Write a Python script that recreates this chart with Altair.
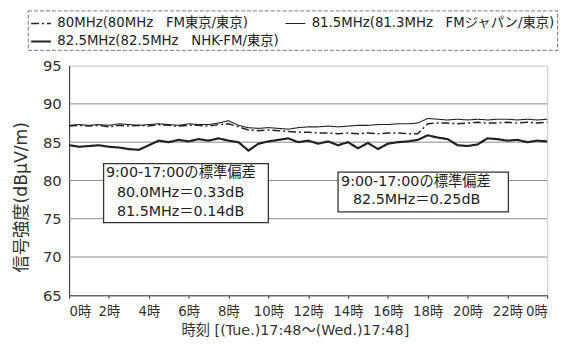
import altair as alt
import pandas as pd

hours = [0.0, 0.5, 1.0, 1.5, 2.0, 2.5, 3.0, 3.5, 4.0, 4.5, 5.0, 5.5, 6.0, 6.5, 7.0, 7.5,
         8.0, 8.5, 9.0, 9.5, 10.0, 10.5, 11.0, 11.5, 12.0, 12.5, 13.0, 13.5, 14.0, 14.5,
         15.0, 15.5, 16.0, 16.5, 17.0, 17.5, 18.0, 18.5, 19.0, 19.5, 20.0, 20.5, 21.0,
         21.5, 22.0, 22.5, 23.0, 23.5, 24.0]

s80 = [87.1, 87.2, 87.1, 87.2, 87.0, 87.2, 87.1, 87.2, 87.1, 87.3, 87.2, 87.1, 87.2, 87.2,
       87.1, 87.3, 87.4, 87.0, 86.6, 86.5, 86.6, 86.5, 86.4, 86.3, 86.3, 86.2, 86.2, 86.1,
       86.2, 86.1, 86.2, 86.1, 86.2, 86.2, 86.1, 86.1, 87.4, 87.5, 87.5, 87.4, 87.5, 87.6,
       87.5, 87.5, 87.6, 87.5, 87.6, 87.5, 87.6]

s815 = [87.2, 87.3, 87.2, 87.3, 87.2, 87.4, 87.3, 87.2, 87.3, 87.4, 87.3, 87.2, 87.4, 87.3,
        87.3, 87.5, 87.8, 87.2, 86.9, 86.8, 86.9, 86.8, 86.7, 86.9, 87.0, 87.0, 87.1, 87.0,
        87.1, 87.2, 87.2, 87.3, 87.3, 87.4, 87.4, 87.5, 88.1, 88.0, 87.9, 88.0, 87.9, 88.0,
        87.9, 88.0, 88.0, 87.9, 88.0, 87.9, 88.0]

s825 = [84.6, 84.4, 84.5, 84.6, 84.4, 84.3, 84.1, 84.0, 84.6, 85.2, 85.0, 85.3, 85.1, 85.4,
        85.2, 85.5, 85.2, 85.0, 83.9, 84.8, 85.1, 85.3, 85.5, 85.0, 85.2, 84.8, 85.1, 84.6,
        85.0, 84.2, 84.9, 84.1, 84.8, 85.0, 85.1, 85.3, 85.9, 85.6, 85.4, 84.6, 84.5, 84.7,
        85.5, 85.4, 85.2, 85.3, 85.0, 85.2, 85.1]

name80 = "80MHz(80MHz\u00a0\u00a0\u00a0FM東京/東京)"
name815 = "81.5MHz(81.3MHz\u00a0\u00a0\u00a0FMジャパン/東京)"
name825 = "82.5MHz(82.5MHz\u00a0\u00a0\u00a0NHK-FM/東京)"
# legend fills column by column: 80 / 82.5 in first column, 81.5 in second
legend_order = [name80, name825, name815]
dash_range = [[8, 3, 2, 3], [1, 0], [1, 0]]
width_range = [1.5, 2.2, 1.1]

y_ticks = [65, 70, 75, 80, 85, 90, 95]
grid_levels = [70, 75, 80, 85, 90]
x_ticks = [0, 2, 4, 6, 8, 10, 12, 14, 16, 18, 20, 22, 24]

# annotation boxes (data units: hours, dB)
box_x = [1.73, 13.5]
box_x2 = [10.0, 22.05]
box_y = [82.2, 81.1]
box_y2 = [74.5, 75.9]

note_text = ["9:00-17:00の標準偏差", "80.0MHz＝0.33dB", "81.5MHz＝0.14dB",
             "9:00-17:00の標準偏差", "82.5MHz＝0.25dB"]
note_x = [1.85, 2.4, 2.4, 13.65, 14.25]
note_y = [80.95, 78.35, 75.9, 79.8, 77.5]

FONT = "DejaVu Sans, Noto Sans CJK JP"

rows = []
for name, vals in zip([name80, name815, name825], [s80, s815, s825]):
    for h, v in zip(hours, vals):
        rows.append({"series": name, "hour": h, "value": v})
df = pd.DataFrame(rows)

boxes = pd.DataFrame({"x": box_x, "x2": box_x2, "y": box_y, "y2": box_y2})
notes = pd.DataFrame({"t": note_text, "x": note_x, "y": note_y})
grid_df = pd.DataFrame({"g": grid_levels})

xscale = alt.Scale(domain=[0, 24], nice=False)
yscale = alt.Scale(domain=[65, 95], nice=False, zero=False)

legend = alt.Legend(
    title=None, orient="none", legendX=-42, legendY=-56, columns=2,
    symbolType="stroke", symbolSize=400, symbolStrokeColor="#222",
    labelFontSize=13.5, labelFont=FONT, labelColor="#222", labelLimit=400,
    labelOffset=5, columnPadding=4, rowPadding=0, padding=2, strokeColor="#777",
)

grid = alt.Chart(grid_df).mark_rule(color="#8a8a8a", strokeWidth=1).encode(
    y=alt.Y("g:Q", scale=yscale))

lines = alt.Chart(df).mark_line(color="#222").encode(
    x=alt.X("hour:Q", scale=xscale,
            axis=alt.Axis(values=x_ticks, tickCount=13,
                          labelExpr="(datum.value % 24) + '時'", labelOverlap=False,
                          title="時刻  [(Tue.)17:48～(Wed.)17:48]",
                          titleX=229, titleAnchor="start", titleAlign="center",
                          grid=False, tickSize=3, labelPadding=6, titlePadding=6)),
    y=alt.Y("value:Q", scale=yscale,
            axis=alt.Axis(values=y_ticks, tickCount=7, title="信号強度(dBμV/m)", grid=False,
                          titleY=133, titleAnchor="start", titleAlign="center",
                          tickSize=0, labelPadding=8, titlePadding=12, labelOverlap=False)),
    strokeDash=alt.StrokeDash("series:N",
                              scale=alt.Scale(type="ordinal", domain=legend_order,
                                              range=dash_range),
                              legend=legend),
    strokeWidth=alt.StrokeWidth("series:N",
                                scale=alt.Scale(type="ordinal", domain=legend_order,
                                                range=width_range),
                                legend=legend),
)

rects = alt.Chart(boxes).mark_rect(fill="white", stroke="#333", strokeWidth=1.3).encode(
    x="x:Q", x2="x2:Q", y="y:Q", y2="y2:Q")

texts = alt.Chart(notes).mark_text(align="left", baseline="middle", fontSize=14.5,
                                   font=FONT, color="#222").encode(
    x="x:Q", y="y:Q", text="t:N")

chart = alt.layer(grid, lines, rects, texts).properties(
    width=485, height=233,
    autosize=alt.AutoSizeParams(type="none"),
    padding={"left": 62, "top": 56, "right": 17, "bottom": 51},
).configure_view(stroke="#c8c8c8").configure_axis(
    labelFont=FONT, titleFont=FONT, labelFontSize=13.5, titleFontSize=14.5,
    labelColor="#333", titleColor="#333", titleFontWeight="normal",
    domainColor="#333", tickColor="#333",
).configure_axisY(labelFontSize=15, titleFontSize=17.5).configure_legend(
    strokeDash=[4, 2]
)

chart.save("out.html", embed_options={"renderer": "svg", "actions": False})
